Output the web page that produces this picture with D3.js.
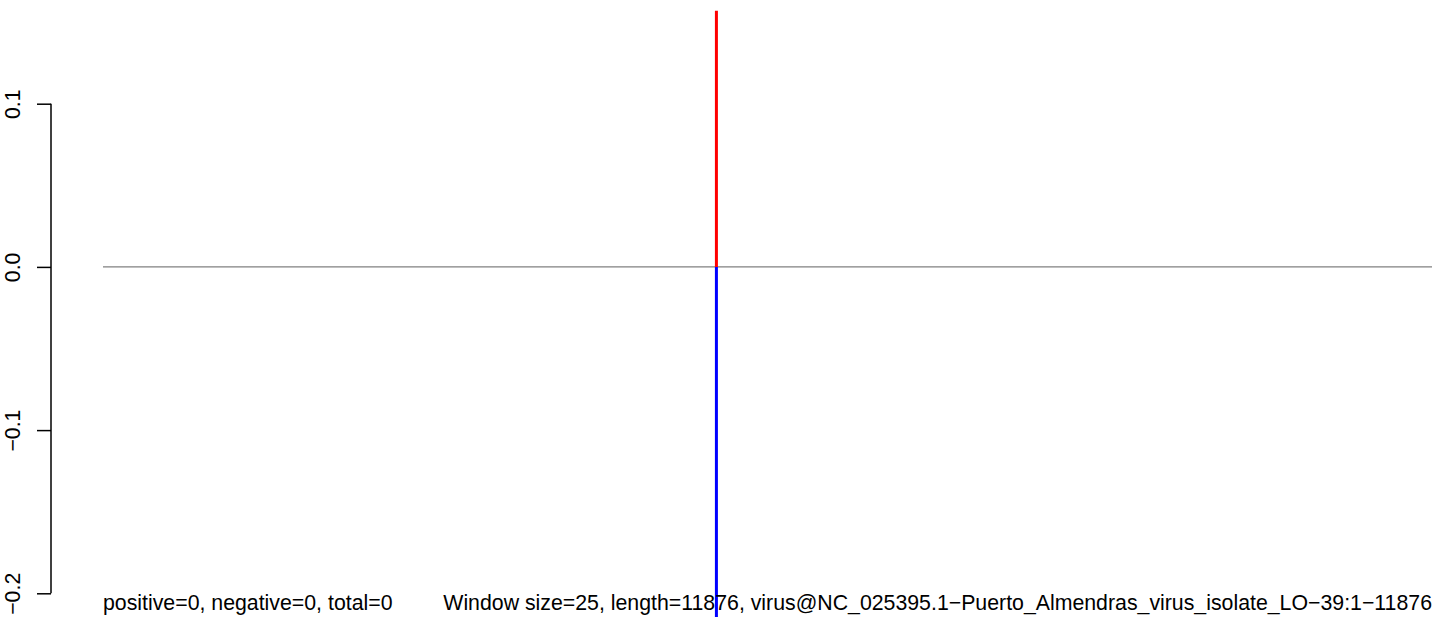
<!DOCTYPE html>
<html>
<head>
<meta charset="utf-8">
<script src="https://cdn.jsdelivr.net/npm/d3@7"></script>
<style>
  html, body { margin: 0; padding: 0; background: #fff; }
  svg { display: block; font-family: "Liberation Sans", Arial, Helvetica, sans-serif; }
</style>
</head>
<body>
<svg id="chart" width="1444" height="617"></svg>
<script>
// ---- data ----
const genomeRange = [1, 11876];
const markPositions = [5482];
const positiveValues = [0.157];
const negativeValues = [-0.215];
const yTicks = [-0.2, -0.1, 0.0, 0.1];
const yTickLabels = ["\u22120.2", "\u22120.1", "0.0", "0.1"];
const summaryText = "positive=0, negative=0, total=0";
const infoText = "Window size=25, length=11876, virus@NC_025395.1\u2212Puerto_Almendras_virus_isolate_LO\u221239:1\u221211876";

// ---- layout ----
const svg = d3.select("#chart");
const x = d3.scaleLinear().domain(genomeRange).range([103, 1432]);
const y = d3.scaleLinear().domain([-0.2, 0.1]).range([593.3, 103.7]);

// zero baseline
svg.append("line")
  .attr("x1", x(genomeRange[0])).attr("x2", x(genomeRange[1]))
  .attr("y1", y(0)).attr("y2", y(0))
  .attr("stroke", "#808080").attr("stroke-width", 1.2);

// positive (red) segments
svg.selectAll("line.pos").data(markPositions).enter().append("line")
  .attr("class", "pos")
  .attr("x1", d => x(d)).attr("x2", d => x(d))
  .attr("y1", y(0)).attr("y2", (d, i) => y(positiveValues[i]))
  .attr("stroke", "#ff0000").attr("stroke-width", 3);

// negative (blue) segments
svg.selectAll("line.neg").data(markPositions).enter().append("line")
  .attr("class", "neg")
  .attr("x1", d => x(d)).attr("x2", d => x(d))
  .attr("y1", y(0)).attr("y2", (d, i) => y(negativeValues[i]))
  .attr("stroke", "#0000ff").attr("stroke-width", 3);

// y axis
const axis = d3.axisLeft(y).tickValues(yTicks).tickSize(14)
  .tickFormat((d, i) => yTickLabels[i]);
const g = svg.append("g").attr("transform", "translate(51,0)").call(axis);
g.select(".domain").attr("stroke", "#000").attr("stroke-width", 1.5)
  .attr("d", `M0,${y(0.1)}V${y(-0.2)}`);
g.selectAll(".tick line").attr("stroke", "#000").attr("stroke-width", 1.5);
g.selectAll(".tick text")
  .attr("x", 0).attr("y", 0).attr("dy", 0)
  .attr("transform", "translate(-38.5,0) rotate(-90)")
  .attr("text-anchor", "middle")
  .attr("dominant-baseline", "central")
  .attr("font-size", 21.3)
  .attr("font-family", "Liberation Sans, Arial, sans-serif")
  .attr("fill", "#000");

// bottom texts
svg.append("text").attr("x", 103).attr("y", 610)
  .attr("font-size", 21.3).attr("fill", "#000").text(summaryText);
svg.append("text").attr("x", 1432).attr("y", 610)
  .attr("text-anchor", "end")
  .attr("font-size", 21.3).attr("fill", "#000").text(infoText);
</script>
</body>
</html>
